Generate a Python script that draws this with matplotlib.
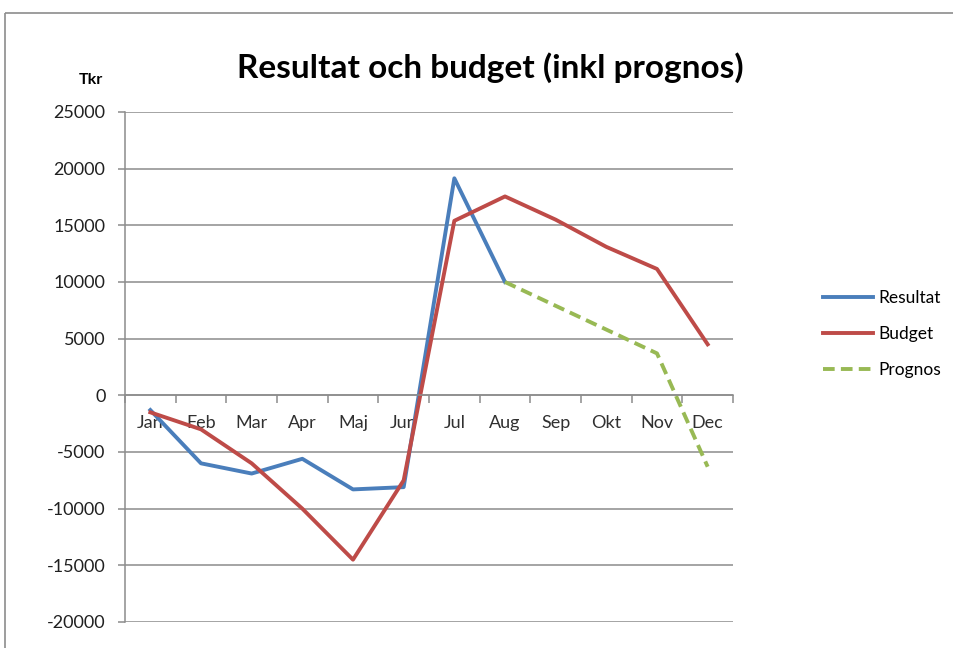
import matplotlib.pyplot as plt
from matplotlib.lines import Line2D
import numpy as np

months = ['Jan', 'Feb', 'Mar', 'Apr', 'Maj', 'Jun', 'Jul', 'Aug', 'Sep', 'Okt', 'Nov', 'Dec']
resultat = [-1300, -6000, -6900, -5600, -8300, -8100, 19150, 10000]
budget = [-1500, -3000, -6000, -10000, -14500, -7500, 15400, 17550, 15500, 13100, 11150, 4500]
# prognos starts at Aug
prognos = [10000, 7900, 5800, 3700, -6300]
prognos_start = 7

plt.rcParams['font.family'] = ['Lato', 'DejaVu Sans']

fig = plt.figure(figsize=(9.54, 6.48), dpi=100)
ax = fig.add_axes([125/954, 1 - 622/648, (733 - 125)/954, (622 - 112)/648])

x = np.arange(len(months))
ax.plot(x[:len(resultat)], resultat, color='#4A7EBB', lw=2.8, label='Resultat', solid_joinstyle='round')
ax.plot(x, budget, color='#BE4B48', lw=2.8, label='Budget', solid_joinstyle='round')
ax.plot(x[prognos_start:prognos_start + len(prognos)], prognos, color='#98B954', lw=2.8,
        ls=(0, (3, 1.6)), label='Prognos')

ax.set_xlim(-0.5, 11.5)
ax.set_ylim(-20000, 25000)
ax.set_yticks(np.arange(-20000, 25001, 5000))
ax.set_yticklabels([str(v) for v in range(-20000, 25001, 5000)], fontsize=13, color='#202020')
ax.yaxis.grid(True, color='#8c8c8c', lw=1.1)
ax.set_axisbelow(True)

for s in ['top', 'right']:
    ax.spines[s].set_visible(False)
ax.spines['left'].set_color('#8c8c8c')
ax.spines['left'].set_linewidth(1.1)
ax.spines['bottom'].set_position(('data', 0))
ax.spines['bottom'].set_color('#8c8c8c')
ax.spines['bottom'].set_linewidth(1.1)
ax.tick_params(axis='y', length=5, color='#8c8c8c', width=1.1, pad=9)

ax.set_xticks(x)
ax.set_xticklabels(months, fontsize=13, color='#303030')
ax.set_xticks(np.arange(-0.5, 12, 1), minor=True)
ax.tick_params(axis='x', which='major', length=0, pad=14)
ax.tick_params(axis='x', which='minor', length=6, color='#8c8c8c', width=1.1, direction='out')

fig.text(490/954, 1 - 68/648, 'Resultat och budget (inkl prognos)', fontsize=24, fontweight='bold',
         ha='center', va='center')
fig.text(91/954, 1 - 80/648, 'Tkr', fontsize=11.5, fontweight='bold', ha='center', va='center')

ax.legend(loc='center left', bbox_to_anchor=(807/954, 1 - 334/648), bbox_transform=fig.transFigure,
          frameon=False, fontsize=12.5, handlelength=2.9, labelspacing=1.15, handletextpad=0.3)

# chart frame
fig.add_artist(Line2D([5/954, 1.0], [1 - 13/648, 1 - 13/648], color='#8c8c8c', lw=1.2,
                      solid_capstyle='butt', transform=fig.transFigure))
fig.add_artist(Line2D([5/954, 5/954], [0, 1 - 13/648], color='#8c8c8c', lw=1.2,
                      solid_capstyle='butt', transform=fig.transFigure))

fig.savefig('out.png', dpi=100)
